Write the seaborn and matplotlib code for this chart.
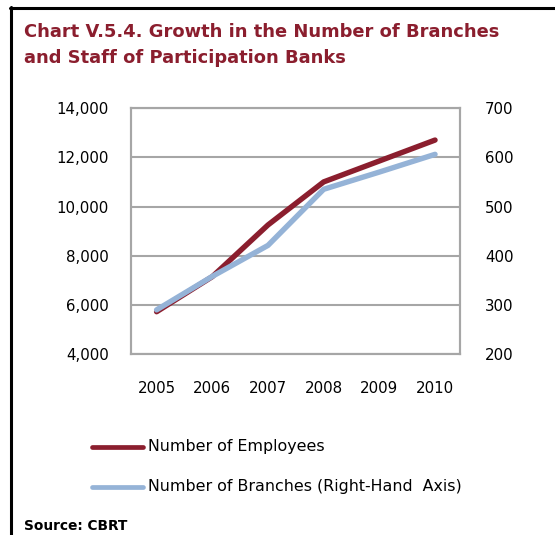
import matplotlib
matplotlib.use("Agg")
import matplotlib.pyplot as plt
from matplotlib.lines import Line2D
import seaborn as sns
import pandas as pd

years = ["2005", "2006", "2007", "2008", "2009", "2010"]
employees = [5725, 7150, 9250, 11000, 11850, 12700]
branches = [290, 358, 421, 535, 570, 606]
employee_ticks = [4000, 6000, 8000, 10000, 12000, 14000]
branch_ticks = [200, 300, 400, 500, 600, 700]

RED = "#8B1E2E"
BLUE = "#95B3D7"
GRID = "#A6A6A6"

sns.set_theme(style="white")
plt.rcParams["font.family"] = ["DejaVu Sans"]

df = pd.DataFrame({"pos": range(len(years)), "year": years,
                   "employees": employees, "branches": branches})

fig = plt.figure(figsize=(5.55, 5.35), dpi=100)
ax = fig.add_axes([0.236, 0.338, 0.593, 0.460])
ax2 = ax.twinx()

sns.lineplot(data=df, x="pos", y="employees", ax=ax, color=RED, lw=3.9,
             solid_capstyle="round", zorder=3)
sns.lineplot(data=df, x="pos", y="branches", ax=ax2, color=BLUE, lw=3.9,
             solid_capstyle="round", zorder=3)

ax.set_xlim(-0.46, 5.45)
ax.set_ylim(4000, 14000)
ax2.set_ylim(200, 700)
ax.set_yticks(employee_ticks)
ax.set_yticklabels([f"{v:,}" for v in employee_ticks])
ax2.set_yticks(branch_ticks)
ax2.set_yticklabels([str(v) for v in branch_ticks])
ax.set_xticks(range(len(years)))
ax.set_xticklabels(years)

for a in (ax, ax2):
    a.set_xlabel("")
    a.set_ylabel("")
    for s in a.spines.values():
        s.set_color(GRID)
        s.set_linewidth(1.5)
ax.grid(axis="y", color=GRID, lw=1.5)
ax.set_axisbelow(True)
ax2.grid(False)
ax.tick_params(axis="y", length=0, pad=16, labelsize=10.8, colors="black")
ax.tick_params(axis="x", length=0, pad=19, labelsize=10.8, colors="black")
ax2.tick_params(axis="y", length=0, pad=18, labelsize=10.8, colors="black")

# title
fig.text(24 / 555, 1 - 32 / 535, "Chart V.5.4. Growth in the Number of Branches",
         color=RED, fontsize=12.9, fontweight="bold", va="center", ha="left")
fig.text(24 / 555, 1 - 58 / 535, "and Staff of Participation Banks",
         color=RED, fontsize=12.9, fontweight="bold", va="center", ha="left")

# legend
for yy, col, lab in [(447, RED, "Number of Employees"),
                     (487, BLUE, "Number of Branches (Right-Hand  Axis)")]:
    fig.add_artist(Line2D([92 / 555, 143 / 555], [1 - yy / 535] * 2, color=col,
                          lw=3.4, solid_capstyle="round"))
    fig.text(148 / 555, 1 - yy / 535, lab, fontsize=11.4, va="center",
             ha="left", color="black")

fig.text(24 / 555, 1 - 526 / 535, "Source: CBRT", fontsize=9.9,
         fontweight="bold", va="center", ha="left", color="black")

# frame lines at top and left
fig.add_artist(Line2D([10 / 555, 1.0], [1 - 8 / 535] * 2, color="black", lw=2.2))
fig.add_artist(Line2D([11 / 555] * 2, [0, 1 - 7 / 535], color="black", lw=2.2))

fig.savefig("out.png", dpi=100)
